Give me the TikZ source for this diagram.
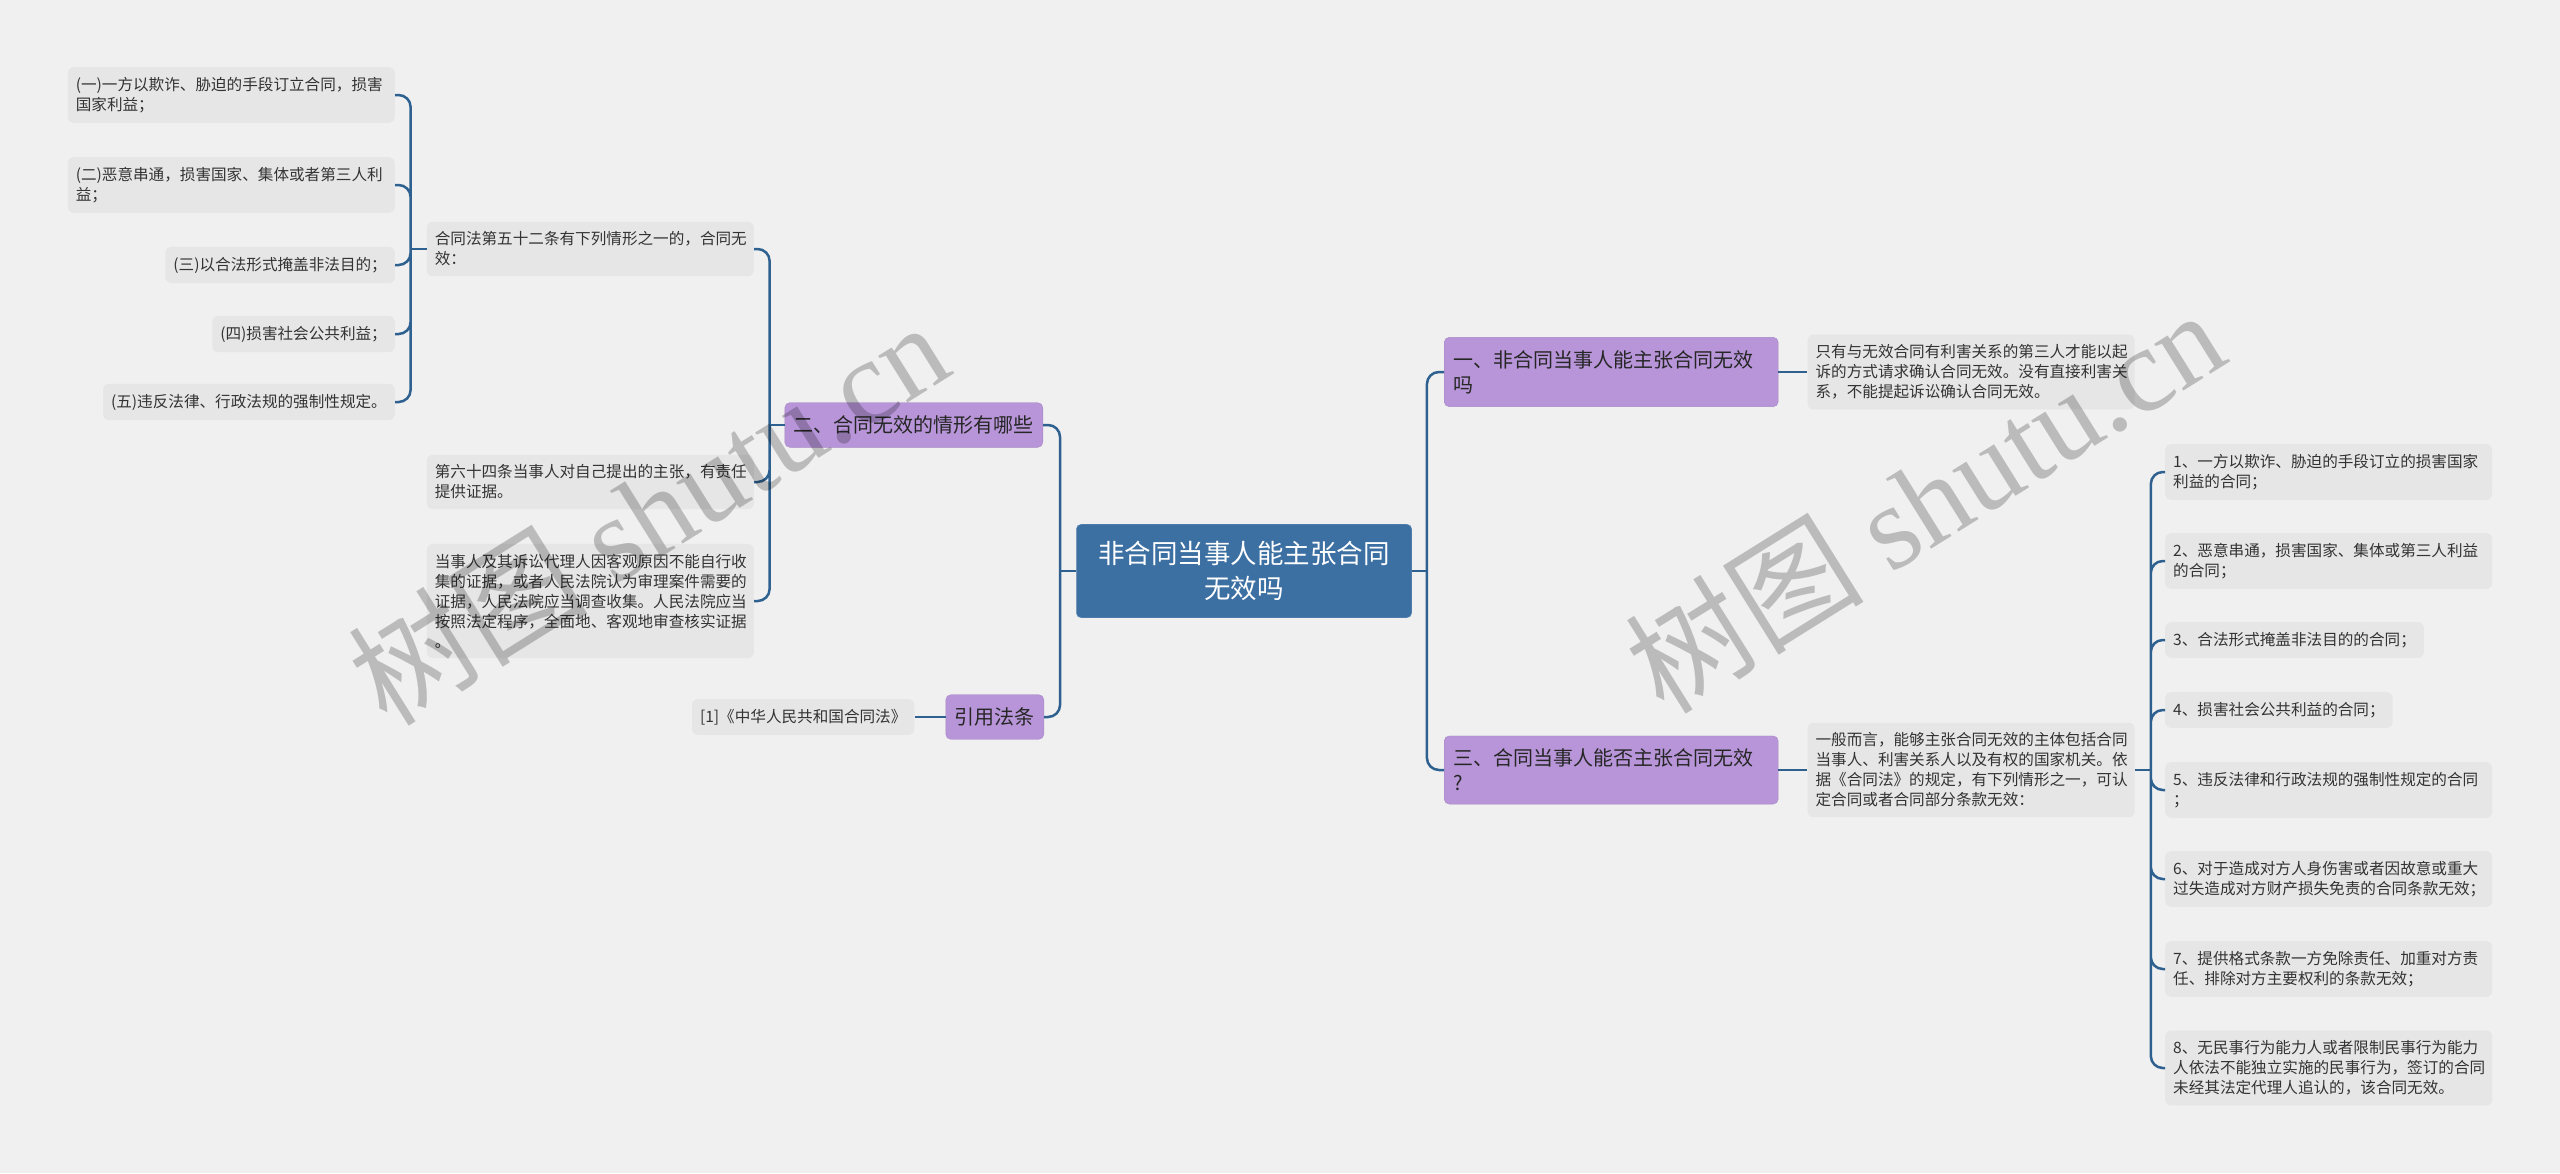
\documentclass[tikz,border=0pt]{standalone}
\usepackage{fontspec}
\setmainfont{Noto Sans CJK SC}
\newfontfamily\wmlatin{Liberation Serif}
\usepackage{tikz}
\usetikzlibrary{positioning}
\definecolor{bgc}{HTML}{F0F0F0}
\definecolor{linec}{HTML}{2E6190}
\definecolor{rootc}{HTML}{3C6FA2}
\definecolor{topicc}{HTML}{B795D8}
\definecolor{leafc}{HTML}{E6E6E6}
\definecolor{txtc}{HTML}{333333}
\newcommand\leaffont{\fontsize{15.6}{20}\selectfont}
\newcommand\topicfont{\fontsize{20}{25}\selectfont}
\newcommand\rootfont{\fontsize{26.5}{35}\selectfont}
\newcommand\wmfont{\fontsize{120}{120}\selectfont}

\begin{document}
\begin{tikzpicture} [
  x=1pt, y=-1pt,
  every node/.style= {font=\leaffont, text=txtc},
  root/.style= {rounded corners=5pt, fill=rootc, draw=rootc!75!white, text=white, font=\rootfont, align=center, inner xsep=22pt, inner ysep=17pt},
  topic/.style= {rounded corners=5pt, fill=topicc, draw=topicc!92!black, text=black!85, font=\topicfont, align=left, inner xsep=9pt, inner ysep=13pt},
  leaf/.style= {rounded corners=6pt, fill=leafc, align=left, inner xsep=8pt, inner ysep=10pt},
  wide/.style= {leaf, text width=311pt},
  conn/.style= {draw=linec, line width=2.5pt},
  wm/.style= {text=black, text opacity=0.22, font=\wmfont, rotate=32}
]
\path [use as bounding box, fill=bgc] (0,0) rectangle (2560,1173);

\node (0) [root] at (1244,571) {非合同当事人能主张合同\\无效吗};

\node (R1) [topic, anchor=west, text width=316pt] at (1444,372) {一、非合同当事人能主张合同无效\\吗};
\node (R2) [topic, anchor=west, text width=316pt] at (1444,770) {三、合同当事人能否主张合同无效\\?};
\node (L1) [topic, anchor=east] at (1043,425) {二、合同无效的情形有哪些};
\node (L2) [topic, anchor=east] at (1044,717) {引用法条};

\node (R1a) [wide, right=29pt of R1] {只有与无效合同有利害关系的第三人才能以起\\诉的方式请求确认合同无效。没有直接利害关\\系，不能提起诉讼确认合同无效。};
\node (R2a) [wide, right=29pt of R2] {一般而言，能够主张合同无效的主体包括合同\\当事人、利害关系人以及有权的国家机关。依\\据《合同法》的规定，有下列情形之一，可认\\定合同或者合同部分条款无效：};
\node (L2a) [leaf, left=31pt of L2] {[1]《中华人民共和国合同法》};

\node (L1a) [wide, anchor=east] at (754,249) {合同法第五十二条有下列情形之一的，合同无\\效：};
\node (L1b) [wide, anchor=east] at (754,482) {第六十四条当事人对自己提出的主张，有责任\\提供证据。};
\node (L1c) [wide, anchor=east] at (754,601) {当事人及其诉讼代理人因客观原因不能自行收\\集的证据，或者人民法院认为审理案件需要的\\证据，人民法院应当调查收集。人民法院应当\\按照法定程序，全面地、客观地审查核实证据\\。};

\node (A1) [wide, anchor=east] at (395,95) {(一)一方以欺诈、胁迫的手段订立合同，损害\\国家利益；};
\node (A2) [wide, anchor=east] at (395,185) {(二)恶意串通，损害国家、集体或者第三人利\\益；};
\node (A3) [leaf, anchor=east] at (395,265) {(三)以合法形式掩盖非法目的；};
\node (A4) [leaf, anchor=east] at (395,334) {(四)损害社会公共利益；};
\node (A5) [leaf, anchor=east] at (395,402) {(五)违反法律、行政法规的强制性规定。};

\node (B1) [wide, anchor=west] at (2165,472) {1、一方以欺诈、胁迫的手段订立的损害国家\\利益的合同；};
\node (B2) [wide, anchor=west] at (2165,561) {2、恶意串通，损害国家、集体或第三人利益\\的合同；};
\node (B3) [leaf, anchor=west] at (2165,640) {3、合法形式掩盖非法目的的合同；};
\node (B4) [leaf, anchor=west] at (2165,710) {4、损害社会公共利益的合同；};
\node (B5) [wide, anchor=west] at (2165,790) {5、违反法律和行政法规的强制性规定的合同\\；};
\node (B6) [wide, anchor=west] at (2165,879) {6、对于造成对方人身伤害或者因故意或重大\\过失造成对方财产损失免责的合同条款无效；};
\node (B7) [wide, anchor=west] at (2165,969) {7、提供格式条款一方免除责任、加重对方责\\任、排除对方主要权利的条款无效；};
\node (B8) [wide, anchor=west] at (2165,1068) {8、无民事行为能力人或者限制民事行为能力\\人依法不能独立实施的民事行为，签订的合同\\未经其法定代理人追认的，该合同无效。};

\draw [conn] (0.east) -- ++(15,0) coordinate (0r);
\draw [conn, rounded corners=12pt] (0r) |- (R1.west) (0r) |- (R2.west);
\draw [conn] (0.west) -- ++(-16,0) coordinate (0l);
\draw [conn, rounded corners=12pt] (0l) |- (L1.east) (0l) |- (L2.east);
\draw [conn] (R1.east) -- (R1a.west);
\draw [conn] (R2.east) -- (R2a.west);
\draw [conn] (L2.west) -- (L2a.east);
\draw [conn] (R2a.east) -- ++(16,0) coordinate (R2r);
\draw [conn, rounded corners=12pt] (R2r) |- (B1.west) (R2r) |- (B2.west) (R2r) |- (B3.west) (R2r) |- (B4.west)
  (R2r) |- (B5.west) (R2r) |- (B6.west) (R2r) |- (B7.west) (R2r) |- (B8.west);
\draw [conn] (L1.west) -- ++(-15,0) coordinate (L1l);
\draw [conn, rounded corners=12pt] (L1l) |- (L1a.east) (L1l) |- (L1b.east) (L1l) |- (L1c.east);
\draw [conn] (L1a.west) -- ++(-16,0) coordinate (L1al);
\draw [conn, rounded corners=12pt] (L1al) |- (A1.east) (L1al) |- (A2.east) (L1al) |- (A3.east) (L1al) |- (A4.east) (L1al) |- (A5.east);

\node (wm1) [wm] at (648,512) {树图 {\wmlatin shutu.cn}};
\node (wm2) [wm] at (1924,500) {树图 {\wmlatin shutu.cn}};
\end{tikzpicture}
\end{document}
